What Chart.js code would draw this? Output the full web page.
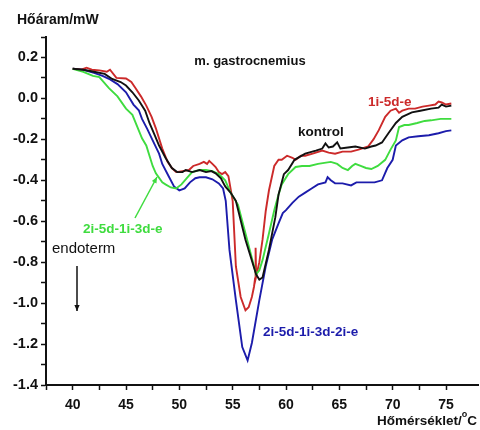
<!DOCTYPE html>
<html>
<head>
<meta charset="utf-8">
<script src="https://cdn.jsdelivr.net/npm/chart.js@4/dist/chart.umd.min.js"></script>
<style>
html,body{margin:0;padding:0;background:#fff;}
#wrap{width:480px;height:430px;position:relative;}
</style>
</head>
<body>
<div id="wrap"><canvas id="c" width="480" height="430"></canvas></div>
<script>
// ---- data (temperature °C, heat flow mW) ----
const kontrolT = [40,41,42,43,43.7,44.5,45,45.6,46.2,46.8,47.2,47.7,48.1,48.7,49.3,49.8,50.3,50.6,51.2,51.9,52.5,53,53.4,53.9,54.3,54.8,55.3,56.2,57.2,57.5,57.8,58.4,59,59.3,59.8,60.2,60.8,61.8,62.8,63.4,63.7,64,64.4,64.8,65.1,65.8,66.5,67.4,68,68.4,69,69.6,70.3,70.9,71.8,72.6,73.6,74.3,74.6,75,75.5];
const kontrolQ = [0.145,0.14,0.13,0.12,0.095,0.08,0.063,0.03,-0.01,-0.06,-0.12,-0.18,-0.23,-0.29,-0.34,-0.36,-0.36,-0.35,-0.36,-0.35,-0.36,-0.355,-0.366,-0.39,-0.43,-0.46,-0.50,-0.69,-0.86,-0.885,-0.875,-0.74,-0.58,-0.47,-0.37,-0.35,-0.30,-0.27,-0.255,-0.245,-0.22,-0.24,-0.235,-0.215,-0.245,-0.24,-0.235,-0.245,-0.235,-0.23,-0.215,-0.17,-0.12,-0.09,-0.068,-0.06,-0.05,-0.045,-0.03,-0.04,-0.035];

const redT = [40,40.8,41.3,41.8,42.5,43.2,43.5,44.1,45,45.5,45.9,46.4,46.9,47.4,47.8,48.4,48.9,49.3,49.7,50.3,50.9,51.3,51.9,52.3,52.6,52.8,53.1,53.4,53.7,54,54.3,54.6,55,55.3,55.75,56.2,56.5,56.8,57,57.1,57.15,57.2,57.5,57.8,58.1,58.4,58.9,59.3,59.6,60.1,60.6,60.9,61.4,61.8,62.5,63.4,64,64.6,65.3,66.1,66.8,67.7,68.2,68.7,69.3,69.8,70.3,70.6,70.9,71.5,72.1,72.8,73.4,74,74.3,74.6,75,75.5];
const redQ = [0.145,0.14,0.15,0.14,0.137,0.13,0.14,0.10,0.097,0.08,0.05,0.01,-0.035,-0.09,-0.146,-0.245,-0.31,-0.34,-0.36,-0.355,-0.35,-0.33,-0.32,-0.31,-0.32,-0.305,-0.32,-0.335,-0.36,-0.37,-0.36,-0.38,-0.50,-0.82,-0.97,-1.035,-1.02,-0.97,-0.92,-0.88,-0.73,-0.87,-0.80,-0.69,-0.55,-0.45,-0.33,-0.30,-0.30,-0.28,-0.29,-0.30,-0.28,-0.28,-0.27,-0.255,-0.265,-0.27,-0.26,-0.26,-0.25,-0.235,-0.20,-0.155,-0.09,-0.06,-0.05,-0.07,-0.06,-0.05,-0.05,-0.04,-0.035,-0.03,-0.015,-0.02,-0.03,-0.025];

const greenT = [40,41,41.9,42.5,43.4,44.2,45,45.6,46.5,46.9,47.5,47.8,48.4,48.7,49.2,49.7,50.2,50.7,51.2,51.9,52.5,53.1,53.7,54.3,54.8,55.5,56.3,57.2,57.5,57.8,58.4,58.9,59.3,59.6,60.2,60.9,61.5,62.2,63,63.6,64.2,64.8,65.3,65.8,66.2,66.5,67,67.5,68,68.6,69.3,69.8,70.3,70.6,71.1,71.5,72.3,73,73.6,74.5,75.5];
const greenQ = [0.145,0.13,0.11,0.104,0.05,0.01,-0.05,-0.08,-0.195,-0.23,-0.33,-0.366,-0.41,-0.42,-0.435,-0.44,-0.42,-0.39,-0.36,-0.35,-0.35,-0.355,-0.37,-0.40,-0.46,-0.52,-0.68,-0.86,-0.84,-0.79,-0.66,-0.546,-0.47,-0.42,-0.37,-0.335,-0.33,-0.33,-0.32,-0.315,-0.31,-0.32,-0.34,-0.35,-0.33,-0.32,-0.33,-0.34,-0.345,-0.33,-0.30,-0.25,-0.205,-0.14,-0.13,-0.13,-0.12,-0.11,-0.107,-0.10,-0.10];

const blueT = [40,41,42,42.8,43.4,44.2,45,45.7,46.2,46.5,47,47.5,48.1,48.4,49,49.5,50,50.5,51,51.5,51.9,52.5,53.1,53.7,54.1,54.35,54.7,55.3,55.9,56.4,56.8,57.5,58.1,58.7,59.3,59.7,60,60.6,61.2,61.8,62.4,63,63.7,63.9,64.2,64.6,65.3,66.1,66.6,67.5,68.3,69,69.5,70,70.3,70.9,71.5,72.4,73.4,74.3,75,75.5];
const blueQ = [0.145,0.14,0.125,0.11,0.096,0.07,0.03,-0.03,-0.058,-0.10,-0.15,-0.205,-0.27,-0.32,-0.38,-0.43,-0.449,-0.44,-0.41,-0.39,-0.385,-0.385,-0.395,-0.415,-0.44,-0.50,-0.74,-0.985,-1.215,-1.28,-1.195,-0.985,-0.82,-0.69,-0.61,-0.56,-0.546,-0.51,-0.48,-0.46,-0.44,-0.42,-0.41,-0.385,-0.40,-0.415,-0.415,-0.425,-0.41,-0.41,-0.41,-0.40,-0.34,-0.30,-0.23,-0.205,-0.19,-0.185,-0.18,-0.17,-0.16,-0.156];

const seriesNames = ["kontrol","1i-5d-e","2i-5d-1i-3d-e","2i-5d-1i-3d-2i-e"];
const yTickLabels = ["-1.4","-1.2","-1.0","-0.8","-0.6","-0.4","-0.2","0.0","0.2"];
const xTickLabels = ["40","45","50","55","60","65","70","75"];

const COLORS = {black:"#111111", red:"#cc2a2a", green:"#3fdc3f", blue:"#1c1cab"};
const FONT = '"Liberation Sans", Arial, sans-serif';

function pts(T, Q){ return T.map((t,i)=>({x:t, y:Q[i]})); }
function ds(label, T, Q, color){
  return {label, data: pts(T,Q), borderColor: color, backgroundColor: color,
          borderWidth: 1.9, pointRadius: 0, tension: 0, fill: false};
}

const annot = {
  id: 'annot',
  afterDatasetsDraw(chart){
    const c = chart.ctx;
    c.save();
    c.textBaseline = 'middle';
    function txt(s, x, y, color, font, align){
      c.font = font; c.fillStyle = color; c.textAlign = align || 'left';
      c.fillText(s, x, y);
    }
    function arrow(x1,y1,x2,y2,color){
      c.strokeStyle = color; c.fillStyle = color; c.lineWidth = 1.5;
      c.beginPath(); c.moveTo(x1,y1); c.lineTo(x2,y2); c.stroke();
      const a = Math.atan2(y2-y1, x2-x1), L = 6, w = 2.6;
      c.beginPath();
      c.moveTo(x2,y2);
      c.lineTo(x2 - L*Math.cos(a) + w*Math.sin(a), y2 - L*Math.sin(a) - w*Math.cos(a));
      c.lineTo(x2 - L*Math.cos(a) - w*Math.sin(a), y2 - L*Math.sin(a) + w*Math.cos(a));
      c.closePath(); c.fill();
    }
    const B = 'bold 13.5px ' + FONT;
    txt('Hőáram/mW', 17, 20, '#111', 'bold 14px ' + FONT);
    txt('m. gastrocnemius', 250, 61, '#111', 'bold 13px ' + FONT, 'center');
    txt(seriesNames[0], 298, 132, COLORS.black, B);
    txt(seriesNames[1], 368, 102, COLORS.red, B);
    txt(seriesNames[2], 83, 229, COLORS.green, B);
    arrow(135, 218, 157, 177, COLORS.green);
    txt('endoterm', 52, 249, '#111', '15px ' + FONT);
    arrow(77, 266, 77, 311, '#111');
    txt(seriesNames[3], 263, 332, COLORS.blue, B);
    // x axis title with superscript degree
    c.font = B;
    const wC = c.measureText('C').width;
    c.font = 'bold 9px ' + FONT;
    const wO = c.measureText('o').width;
    c.font = B;
    const xEnd = 477;
    txt('C', xEnd - wC, 421, '#111', B);
    txt('o', xEnd - wC - wO, 415, '#111', 'bold 9px ' + FONT);
    txt('Hőmérséklet/', xEnd - wC - wO, 421, '#111', B, 'right');
    c.restore();
  }
};

function onStep(v, step){ const r = v/step; return Math.abs(r - Math.round(r)) < 1e-6; }

new Chart(document.getElementById('c'), {
  type: 'line',
  data: { datasets: [
    ds(seriesNames[0], kontrolT, kontrolQ, COLORS.black),
    ds(seriesNames[2], greenT, greenQ, COLORS.green),
    ds(seriesNames[1], redT, redQ, COLORS.red),
    ds(seriesNames[3], blueT, blueQ, COLORS.blue)
  ]},
  options: {
    responsive: false, animation: false, devicePixelRatio: 1,
    layout: { padding: { left: 0, right: 2, top: 37, bottom: 0 } },
    plugins: { legend: { display: false }, tooltip: { enabled: false }, title: { display: false } },
    scales: {
      x: {
        type: 'linear', min: 37.5, max: 78,
        afterBuildTicks: (ax) => { ax.ticks = ax.ticks.filter(t => onStep(t.value, 2.5)); },
        afterFit: (s) => { s.height = 45; },
        border: { display: true, color: '#111', width: 2 },
        grid: { display: true, drawOnChartArea: false, drawTicks: true, tickLength: 5, color: '#111', tickWidth: 1.5 },
        ticks: {
          stepSize: 2.5, autoSkip: false, maxRotation: 0, padding: 7,
          color: '#111', font: { family: FONT, size: 14, weight: 'bold' },
          callback: (v) => { const s = String(Math.round(v)); return (onStep(v,5) && xTickLabels.includes(s)) ? s : ''; }
        }
      },
      y: {
        type: 'linear', min: -1.4, max: 0.3,
        afterBuildTicks: (ax) => { ax.ticks = ax.ticks.filter(t => onStep(t.value, 0.1)); },
        afterFit: (s) => { s.width = 46; },
        border: { display: true, color: '#111', width: 2 },
        grid: { display: true, drawOnChartArea: false, drawTicks: true, tickLength: 5, color: '#111', tickWidth: 1.5 },
        ticks: {
          stepSize: 0.1, autoSkip: false, padding: 3,
          color: '#111', font: { family: FONT, size: 14.5, weight: 'bold' },
          callback: (v) => { const s = (Math.abs(v) < 1e-9 ? 0 : v).toFixed(1); return (onStep(v,0.2) && yTickLabels.includes(s)) ? s : ''; }
        }
      }
    }
  },
  plugins: [annot]
});
</script>
</body>
</html>
